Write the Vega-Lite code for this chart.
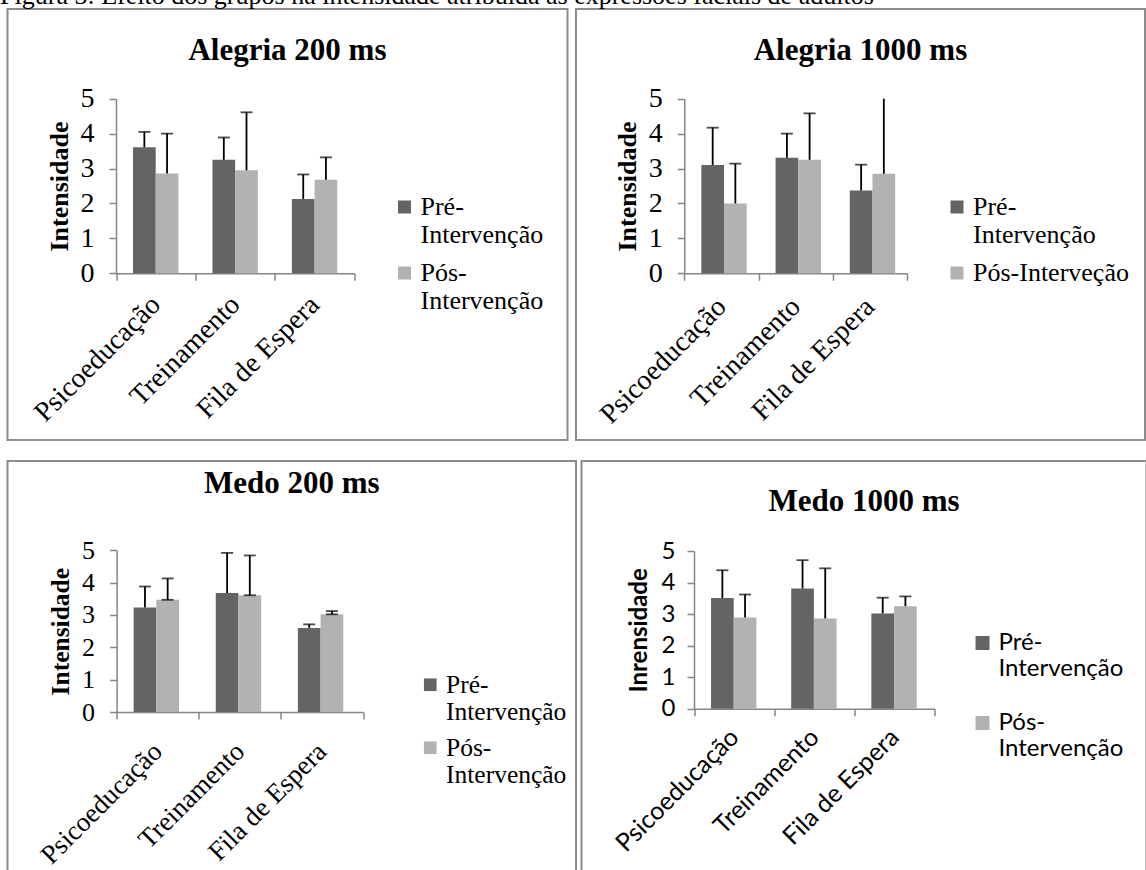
{
  "$schema": "https://vega.github.io/schema/vega-lite/v6.json",
  "padding": {"left": -3.5, "top": -17, "right": 0, "bottom": 0},
  "background": "white",
  "title": {"text": "Figura 3: Efeito dos grupos na intensidade atribuída às expressões faciais de adultos", "anchor": "start", "frame": "bounds", "font": "Liberation Serif", "fontSize": 26, "fontWeight": "normal", "offset": -1, "dx": 3.5},
  "datasets": {
    "medias": [
      {"painel": "Alegria 200 ms", "grupo": "Psicoeducação", "fase": "Pré-Intervenção", "media": 3.61, "sup": 4.05},
      {"painel": "Alegria 200 ms", "grupo": "Psicoeducação", "fase": "Pós-Intervenção", "media": 2.86, "sup": 4.0},
      {"painel": "Alegria 200 ms", "grupo": "Treinamento", "fase": "Pré-Intervenção", "media": 3.25, "sup": 3.89},
      {"painel": "Alegria 200 ms", "grupo": "Treinamento", "fase": "Pós-Intervenção", "media": 2.95, "sup": 4.61},
      {"painel": "Alegria 200 ms", "grupo": "Fila de Espera", "fase": "Pré-Intervenção", "media": 2.13, "sup": 2.83},
      {"painel": "Alegria 200 ms", "grupo": "Fila de Espera", "fase": "Pós-Intervenção", "media": 2.68, "sup": 3.32},
      {"painel": "Alegria 1000 ms", "grupo": "Psicoeducação", "fase": "Pré-Intervenção", "media": 3.1, "sup": 4.17},
      {"painel": "Alegria 1000 ms", "grupo": "Psicoeducação", "fase": "Pós-Intervenção", "media": 2.0, "sup": 3.14},
      {"painel": "Alegria 1000 ms", "grupo": "Treinamento", "fase": "Pré-Intervenção", "media": 3.31, "sup": 4.0},
      {"painel": "Alegria 1000 ms", "grupo": "Treinamento", "fase": "Pós-Intervenção", "media": 3.25, "sup": 4.58},
      {"painel": "Alegria 1000 ms", "grupo": "Fila de Espera", "fase": "Pré-Intervenção", "media": 2.37, "sup": 3.11},
      {"painel": "Alegria 1000 ms", "grupo": "Fila de Espera", "fase": "Pós-Intervenção", "media": 2.85, "sup": 5.2},
      {"painel": "Medo 200 ms", "grupo": "Psicoeducação", "fase": "Pré-Intervenção", "media": 3.23, "sup": 3.88},
      {"painel": "Medo 200 ms", "grupo": "Psicoeducação", "fase": "Pós-Intervenção", "media": 3.47, "sup": 4.13},
      {"painel": "Medo 200 ms", "grupo": "Treinamento", "fase": "Pré-Intervenção", "media": 3.68, "sup": 4.92},
      {"painel": "Medo 200 ms", "grupo": "Treinamento", "fase": "Pós-Intervenção", "media": 3.61, "sup": 4.84},
      {"painel": "Medo 200 ms", "grupo": "Fila de Espera", "fase": "Pré-Intervenção", "media": 2.6, "sup": 2.71},
      {"painel": "Medo 200 ms", "grupo": "Fila de Espera", "fase": "Pós-Intervenção", "media": 3.02, "sup": 3.12},
      {"painel": "Medo 1000 ms", "grupo": "Psicoeducação", "fase": "Pré-Intervenção", "media": 3.51, "sup": 4.39},
      {"painel": "Medo 1000 ms", "grupo": "Psicoeducação", "fase": "Pós-Intervenção", "media": 2.89, "sup": 3.62},
      {"painel": "Medo 1000 ms", "grupo": "Treinamento", "fase": "Pré-Intervenção", "media": 3.81, "sup": 4.71},
      {"painel": "Medo 1000 ms", "grupo": "Treinamento", "fase": "Pós-Intervenção", "media": 2.86, "sup": 4.45},
      {"painel": "Medo 1000 ms", "grupo": "Fila de Espera", "fase": "Pré-Intervenção", "media": 3.02, "sup": 3.52},
      {"painel": "Medo 1000 ms", "grupo": "Fila de Espera", "fase": "Pós-Intervenção", "media": 3.25, "sup": 3.56}
    ]
  },
  "data": {"name": "medias"},
  "spacing": 19,
  "resolve": {"scale": {"color": "independent"}, "legend": {"color": "independent"}},
  "vconcat": [
    {
      "spacing": -3.5,
      "resolve": {"scale": {"color": "independent"}, "legend": {"color": "independent"}},
      "hconcat": [
        {
          "width": 560, "height": 431,
          "title": {"text": "Alegria 200 ms", "offset": -73, "baseline": "middle", "anchor": "middle", "frame": "group", "font": "Liberation Serif", "fontSize": 31, "fontWeight": "bold"},
          "transform": [{"filter": "datum.painel == 'Alegria 200 ms'"}],
          "encoding": {
            "x": {"field": "grupo", "type": "nominal", "sort": ["Psicoeducação", "Treinamento", "Fila de Espera"], "scale": {"range": [108.5, 346.8], "paddingInner": 0, "paddingOuter": 0},
                  "axis": {"title": null, "labelAngle": -45, "labelAlign": "right", "labelBaseline": "middle", "labelFontSize": 28, "offset": -166.7, "tickBand": "extent", "labelPadding": 20, "labelOverlap": false}},
            "xOffset": {"field": "fase", "type": "nominal", "sort": ["Pré-Intervenção", "Pós-Intervenção"], "scale": {"paddingInner": 0, "paddingOuter": 0.75}}
          },
          "layer": [
            {"mark": {"type": "bar"},
             "encoding": {
               "y": {"field": "media", "type": "quantitative", "title": "Intensidade", "scale": {"domain": [0, 5], "range": [264.3, 89.7], "clamp": true, "nice": false},
                     "axis": {"values": [0, 1, 2, 3, 4, 5], "format": "d", "offset": -108.5, "labelFontSize": 28, "titleFontSize": 26, "titleFontWeight": "bold", "labelPadding": 15, "titlePadding": 8}},
               "color": {"field": "fase", "type": "nominal", "scale": {"domain": ["Pré-Intervenção", "Pós-Intervenção"], "range": ["#646464", "#B2B2B2"]},
                         "legend": {"title": null, "orient": "none", "legendX": 384, "legendY": 185, "symbolType": "square", "symbolSize": 169, "symbolStrokeWidth": 0, "labelFont": "Liberation Serif", "labelFontSize": 26, "labelLimit": 400, "rowPadding": 12, "labelOffset": 3, "labelBaseline": "middle",
                                    "labelExpr": "datum.label == 'Pré-Intervenção' ? ['Pré-', 'Intervenção'] : ['Pós-', 'Intervenção']"}}
             }},
            {"mark": {"type": "rule", "color": "black", "strokeWidth": 1.8},
             "encoding": {"y": {"field": "media", "type": "quantitative", "title": "Intensidade"}, "y2": {"field": "sup"}}},
            {"transform": [{"filter": "datum.sup <= 5"}],
             "mark": {"type": "tick", "color": "black", "thickness": 1.8, "size": 12},
             "encoding": {"y": {"field": "sup", "type": "quantitative", "title": "Intensidade"}}}
          ]
        },
        {
          "width": 569, "height": 431,
          "title": {"text": "Alegria 1000 ms", "offset": -73, "baseline": "middle", "anchor": "middle", "frame": "group", "font": "Liberation Serif", "fontSize": 31, "fontWeight": "bold"},
          "transform": [{"filter": "datum.painel == 'Alegria 1000 ms'"}],
          "encoding": {
            "x": {"field": "grupo", "type": "nominal", "sort": ["Psicoeducação", "Treinamento", "Fila de Espera"], "scale": {"range": [108.3, 331], "paddingInner": 0, "paddingOuter": 0},
                  "axis": {"title": null, "labelAngle": -45, "labelAlign": "right", "labelBaseline": "middle", "labelFontSize": 28, "offset": -166.7, "tickBand": "extent", "labelPadding": 22, "labelOverlap": false}},
            "xOffset": {"field": "fase", "type": "nominal", "sort": ["Pré-Intervenção", "Pós-Intervenção"], "scale": {"paddingInner": 0, "paddingOuter": 0.75}}
          },
          "layer": [
            {"mark": {"type": "bar"},
             "encoding": {
               "y": {"field": "media", "type": "quantitative", "title": "Intensidade", "scale": {"domain": [0, 5], "range": [264.3, 89.7], "clamp": true, "nice": false},
                     "axis": {"values": [0, 1, 2, 3, 4, 5], "format": "d", "offset": -108.3, "labelFontSize": 28, "titleFontSize": 26, "titleFontWeight": "bold", "labelPadding": 15, "titlePadding": 8}},
               "color": {"field": "fase", "type": "nominal", "scale": {"domain": ["Pré-Intervenção", "Pós-Intervenção"], "range": ["#646464", "#B2B2B2"]},
                         "legend": {"title": null, "orient": "none", "legendX": 368, "legendY": 185, "symbolType": "square", "symbolSize": 169, "symbolStrokeWidth": 0, "labelFont": "Liberation Serif", "labelFontSize": 26, "labelLimit": 400, "rowPadding": 12, "labelOffset": 3, "labelBaseline": "middle",
                                    "labelExpr": "datum.label == 'Pré-Intervenção' ? ['Pré-', 'Intervenção'] : 'Pós-Interveção'"}}
             }},
            {"mark": {"type": "rule", "color": "black", "strokeWidth": 1.8},
             "encoding": {"y": {"field": "media", "type": "quantitative", "title": "Intensidade"}, "y2": {"field": "sup"}}},
            {"transform": [{"filter": "datum.sup <= 5"}],
             "mark": {"type": "tick", "color": "black", "thickness": 1.8, "size": 12},
             "encoding": {"y": {"field": "sup", "type": "quantitative", "title": "Intensidade"}}}
          ]
        }
      ]
    },
    {
      "spacing": -6,
      "resolve": {"scale": {"color": "independent"}, "legend": {"color": "independent"}},
      "hconcat": [
        {
          "width": 568.5, "height": 413,
          "title": {"text": "Medo 200 ms", "offset": -54, "baseline": "middle", "anchor": "middle", "frame": "group", "font": "Liberation Serif", "fontSize": 31, "fontWeight": "bold"},
          "transform": [{"filter": "datum.painel == 'Medo 200 ms'"}],
          "encoding": {
            "x": {"field": "grupo", "type": "nominal", "sort": ["Psicoeducação", "Treinamento", "Fila de Espera"], "scale": {"range": [109.1, 355.5], "paddingInner": 0, "paddingOuter": 0},
                  "axis": {"title": null, "labelAngle": -45, "labelAlign": "right", "labelBaseline": "middle", "labelFontSize": 27, "offset": -162, "tickBand": "extent", "labelPadding": 28, "labelOverlap": false}},
            "xOffset": {"field": "fase", "type": "nominal", "sort": ["Pré-Intervenção", "Pós-Intervenção"], "scale": {"paddingInner": 0, "paddingOuter": 0.75}}
          },
          "layer": [
            {"mark": {"type": "bar"},
             "encoding": {
               "y": {"field": "media", "type": "quantitative", "title": "Intensidade", "scale": {"domain": [0, 5], "range": [251, 89.3], "clamp": true, "nice": false},
                     "axis": {"values": [0, 1, 2, 3, 4, 5], "format": "d", "offset": -109.1, "labelFontSize": 26, "titleFontSize": 25.5, "titleFontWeight": "bold", "labelPadding": 15, "titlePadding": 8}},
               "color": {"field": "fase", "type": "nominal", "scale": {"domain": ["Pré-Intervenção", "Pós-Intervenção"], "range": ["#646464", "#B2B2B2"]},
                         "legend": {"title": null, "orient": "none", "legendX": 410, "legendY": 211, "symbolType": "square", "symbolSize": 160, "symbolStrokeWidth": 0, "labelFont": "Liberation Serif", "labelFontSize": 25.5, "labelLimit": 400, "rowPadding": 9, "labelOffset": 3, "labelBaseline": "middle",
                                    "labelExpr": "datum.label == 'Pré-Intervenção' ? ['Pré-', 'Intervenção'] : ['Pós-', 'Intervenção']"}}
             }},
            {"mark": {"type": "rule", "color": "black", "strokeWidth": 1.8},
             "encoding": {"y": {"field": "media", "type": "quantitative", "title": "Intensidade"}, "y2": {"field": "sup"}}},
            {"mark": {"type": "tick", "color": "black", "thickness": 1.8, "size": 12},
             "encoding": {"y": {"field": "sup", "type": "quantitative", "title": "Intensidade"}}},
            {"transform": [{"filter": "datum.fase == 'Pós-Intervenção'"}],
             "mark": {"type": "tick", "color": "black", "thickness": 1.8, "size": 12},
             "encoding": {"y": {"field": "media", "type": "quantitative", "title": "Intensidade"}}}
          ]
        },
        {
          "width": 565, "height": 413,
          "title": {"text": "Medo 1000 ms", "offset": -72, "baseline": "middle", "anchor": "middle", "frame": "group", "font": "Liberation Serif", "fontSize": 31, "fontWeight": "bold"},
          "transform": [{"filter": "datum.painel == 'Medo 1000 ms'"}],
          "encoding": {
            "x": {"field": "grupo", "type": "nominal", "sort": ["Psicoeducação", "Treinamento", "Fila de Espera"], "scale": {"range": [112.5, 353], "paddingInner": 0, "paddingOuter": 0},
                  "axis": {"title": null, "labelAngle": -45, "labelAlign": "right", "labelBaseline": "middle", "labelFont": "Lato", "labelFontSize": 25, "offset": -165.3, "tickBand": "extent", "labelPadding": 17, "labelOverlap": false}},
            "xOffset": {"field": "fase", "type": "nominal", "sort": ["Pré-Intervenção", "Pós-Intervenção"], "scale": {"paddingInner": 0, "paddingOuter": 0.75}}
          },
          "layer": [
            {"mark": {"type": "bar"},
             "encoding": {
               "y": {"field": "media", "type": "quantitative", "title": "Inrensidade", "scale": {"domain": [0, 5], "range": [247.7, 90], "clamp": true, "nice": false},
                     "axis": {"values": [0, 1, 2, 3, 4, 5], "format": "d", "offset": -112.5, "labelFont": "Lato", "labelFontSize": 24, "titleFont": "Lato", "titleFontSize": 24, "titleFontWeight": "bold", "labelPadding": 12, "titlePadding": 10}},
               "color": {"field": "fase", "type": "nominal", "scale": {"domain": ["Pré-Intervenção", "Pós-Intervenção"], "range": ["#646464", "#B2B2B2"]},
                         "legend": {"title": null, "orient": "none", "legendX": 389, "legendY": 170, "symbolType": "square", "symbolSize": 196, "symbolStrokeWidth": 0, "labelFont": "Lato", "labelFontSize": 24, "labelLimit": 400, "rowPadding": 30, "labelOffset": 4, "labelBaseline": "middle",
                                    "labelExpr": "datum.label == 'Pré-Intervenção' ? ['Pré-', 'Intervenção'] : ['Pós-', 'Intervenção']"}}
             }},
            {"mark": {"type": "rule", "color": "black", "strokeWidth": 1.8},
             "encoding": {"y": {"field": "media", "type": "quantitative", "title": "Inrensidade"}, "y2": {"field": "sup"}}},
            {"mark": {"type": "tick", "color": "black", "thickness": 1.8, "size": 12},
             "encoding": {"y": {"field": "sup", "type": "quantitative", "title": "Inrensidade"}}}
          ]
        }
      ]
    }
  ],
  "config": {
    "font": "Liberation Serif",
    "view": {"stroke": "#8c8c8c", "strokeWidth": 2},
    "axis": {"domainColor": "#868686", "domainWidth": 1.5, "tickColor": "#868686", "tickWidth": 1.5, "tickSize": 7, "labelColor": "black", "titleColor": "black", "grid": false, "labelFont": "Liberation Serif", "titleFont": "Liberation Serif"},
    "legend": {"labelColor": "black"},
    "title": {"color": "black"}
  }
}
